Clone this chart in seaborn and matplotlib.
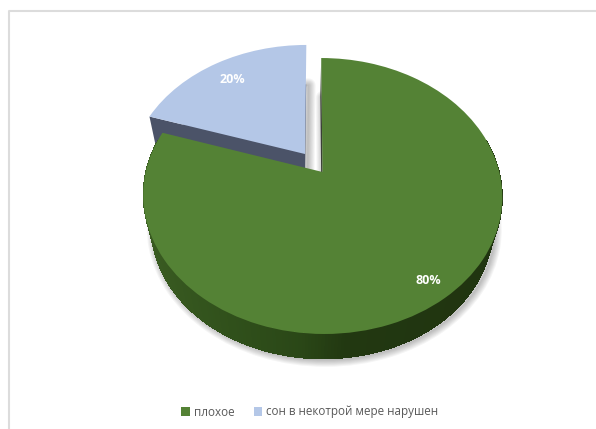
import numpy as np
import matplotlib
matplotlib.use("Agg")
import matplotlib.pyplot as plt
from matplotlib.lines import Line2D
from matplotlib.patches import Wedge
from matplotlib.collections import PolyCollection
from matplotlib.transforms import Transform
import seaborn as sns

labels = ["плохое", "сон в некотрой мере нарушен"]
values = [80, 20]
explode = [0, 0.17]
top_colors = ["#548235", "#b4c7e7"]
side_color_blue = "#4b5368"


class Tilt(Transform):
    """Perspective view of the unit pie, in pixel coordinates of the axes."""
    input_dims = output_dims = 2
    is_separable = False
    has_inverse = False

    def __init__(self, cx=322.5, cy=172.0, scale=1.0, dy=0.0, dx=0.0):
        super().__init__()
        self.k, self.a, self.b, self.sh = 0.174, 133.8, 176.8, -1.5
        self.cx, self.cy, self.scale, self.dy, self.dx = cx, cy, scale, dy, dx

    def transform_non_affine(self, values):
        values = np.asarray(values, dtype=float)
        u, v = values[:, 0], values[:, 1]
        d = 1 + self.k * v
        x = (self.b * u + self.sh * v) / d
        y = self.a * v / d
        return np.column_stack([self.cx + self.dx + self.scale * x,
                                self.cy + self.dy - self.scale * y])


sns.set_theme(style="white")
plt.rcParams["font.family"] = ["Open Sans", "DejaVu Sans"]
palette = sns.color_palette(top_colors)

fig = plt.figure(figsize=(5.96, 4.29), dpi=100)
ax = fig.add_axes([0, 0, 1, 1])

wedges, _, autotexts = ax.pie(
    values, explode=explode, colors=palette, startangle=90, counterclock=False,
    autopct="%d%%", pctdistance=0.8, radius=1.0,
    textprops=dict(color="white", fontsize=9, fontweight="bold"),
)
ax.set_aspect("auto")
ax.set_xlim(0, 596)
ax.set_ylim(429, 0)
ax.axis("off")

top = Tilt()
low = Tilt(scale=0.95, dy=33, dx=-1.0)
shadow = Tilt(scale=0.95, dy=34, dx=1.5)

for w in wedges:
    w.set_transform(top + ax.transData)
    w.set_zorder(6 if w is wedges[0] else 4)
    w.set_edgecolor("none")
autotexts[0].set_position(np.array(autotexts[0].get_position()) * 0.88 / 0.8)
for t in autotexts:
    t.set_transform(top + ax.transData)
    t.set_zorder(8)


def clone(w, trf, **kw):
    p = Wedge(w.center, w.r, w.theta1, w.theta2, transform=trf + ax.transData, **kw)
    ax.add_artist(p)
    return p


# soft shadow
for lw in np.arange(1, 11, 1.5):
    for w in wedges:
        clone(w, shadow, facecolor="none", edgecolor=(0, 0, 0, 0.04),
              linewidth=lw, joinstyle="round", zorder=1)

# side walls: only the front of the rim can be seen
def rim_quads(w, n=160):
    t = np.radians(np.linspace(w.theta1, w.theta2, n))
    t = t[np.sin(t) < 0.25]
    pts = np.column_stack([w.center[0] + w.r * np.cos(t), w.center[1] + w.r * np.sin(t)])
    a, b = top.transform_non_affine(pts), low.transform_non_affine(pts)
    outline = np.vstack([a, b[::-1]])
    return [np.array([a[i], a[i + 1], b[i + 1], b[i]]) for i in range(len(t) - 1)], a[:-1, 0], outline


green, blue = wedges
quads, xs, outline = rim_quads(green, 320)
stops_x = [140, 230, 300, 345, 510]
stops = np.array([[0x3a, 0x5c, 0x22], [0x30, 0x50, 0x1b], [0x2a, 0x47, 0x17],
                  [0x22, 0x38, 0x11], [0x20, 0x34, 0x10]]) / 255
cols = np.column_stack([np.interp(xs, stops_x, stops[:, i]) for i in range(3)])
ax.add_collection(PolyCollection([outline], facecolors="#2a4516", edgecolors="none", zorder=4.8))
ax.add_collection(PolyCollection(quads, facecolors=cols, edgecolors="none",
                                 antialiaseds=False, zorder=5))
# inner wall of the green slice, along its starting edge
edge_pts = np.array([green.center, [green.center[0], green.center[1] + green.r]])
a, b = top.transform_non_affine(edge_pts), low.transform_non_affine(edge_pts)
ax.add_collection(PolyCollection([np.array([a[0], a[1], b[1], b[0]])],
                                 facecolors="#3a3f36", edgecolors="none", zorder=5))

clone(blue, low, facecolor=side_color_blue, edgecolor="none", zorder=3)
t2 = np.radians(blue.theta2)
edge_pts = np.array([blue.center,
                     [blue.center[0] + np.cos(t2), blue.center[1] + np.sin(t2)]])
a, b = top.transform_non_affine(edge_pts), low.transform_non_affine(edge_pts)
ax.add_collection(PolyCollection([np.array([a[0], a[1], b[1], b[0]])],
                                 facecolors=side_color_blue, edgecolors="none", zorder=3))

# chart frame, cut off at the top and left in the source
ax.add_artist(Line2D([9, 9, 596], [429, 11, 11], color="#dcdcdc", lw=1.5, zorder=0))

leg = ax.legend(wedges, labels, ncol=2, loc="center", bbox_to_anchor=(310 / 596, 1 - 412 / 429),
                frameon=False, fontsize=8.4, labelcolor="#595959", handlelength=0.75,
                handleheight=0.75, handletextpad=0.35, columnspacing=1.6,
                borderpad=0, labelspacing=0)

fig.savefig("out.png", dpi=100, facecolor="white")
